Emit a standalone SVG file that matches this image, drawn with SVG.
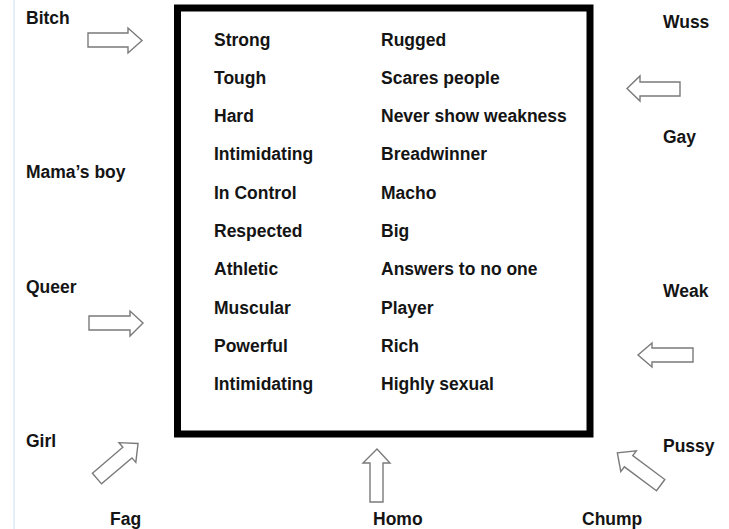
<svg xmlns="http://www.w3.org/2000/svg" width="729" height="529" viewBox="0 0 729 529">
<style>
  text { font-family: "Liberation Sans", Arial, sans-serif; font-weight: bold; font-size: 17.5px; fill: #141414; }
  .arrow { fill: #ffffff; stroke: #7a7a7a; stroke-width: 1.4; stroke-linejoin: miter; }
</style>
<rect x="0" y="0" width="729" height="529" fill="#ffffff"/>
<line x1="14" y1="0" x2="14" y2="529" stroke="#dde8f6" stroke-width="1.5"/>

<g id="box">
  <rect x="177.5" y="8" width="412.5" height="426" fill="#ffffff" stroke="#000000" stroke-width="7"/>
  <g id="box-left-column">
    <text x="214" y="46">Strong</text>
    <text x="214" y="84">Tough</text>
    <text x="214" y="122">Hard</text>
    <text x="214" y="160">Intimidating</text>
    <text x="214" y="199">In Control</text>
    <text x="214" y="237">Respected</text>
    <text x="214" y="275">Athletic</text>
    <text x="214" y="314">Muscular</text>
    <text x="214" y="352">Powerful</text>
    <text x="214" y="390">Intimidating</text>
  </g>
  <g id="box-right-column">
    <text x="381" y="46">Rugged</text>
    <text x="381" y="84">Scares people</text>
    <text x="381" y="122">Never show weakness</text>
    <text x="381" y="160">Breadwinner</text>
    <text x="381" y="199">Macho</text>
    <text x="381" y="237">Big</text>
    <text x="381" y="275">Answers to no one</text>
    <text x="381" y="314">Player</text>
    <text x="381" y="352">Rich</text>
    <text x="381" y="390">Highly sexual</text>
  </g>
</g>

<g id="label-bitch"><text x="26" y="24">Bitch</text></g>
<g id="label-mamasboy"><text x="26" y="178">Mama’s boy</text></g>
<g id="label-queer"><text x="26" y="293">Queer</text></g>
<g id="label-girl"><text x="26" y="447">Girl</text></g>
<g id="label-fag"><text x="110" y="525">Fag</text></g>
<g id="label-homo"><text x="373" y="525">Homo</text></g>
<g id="label-chump"><text x="582" y="525">Chump</text></g>
<g id="label-pussy"><text x="663" y="452">Pussy</text></g>
<g id="label-weak"><text x="663" y="297">Weak</text></g>
<g id="label-gay"><text x="663" y="143">Gay</text></g>
<g id="label-wuss"><text x="663" y="28">Wuss</text></g>

<g id="connectors">
  <path class="arrow" d="M88,33 L128,33 L128,28 L142,40.5 L128,53 L128,47 L88,47 Z"/>
  <path class="arrow" d="M89,316 L130,316 L130,311 L143,323 L130,336 L130,330 L89,330 Z"/>
  <path class="arrow" d="M680,82 L640,82 L640,76 L627,88.5 L640,101 L640,96 L680,96 Z"/>
  <path class="arrow" d="M693,348 L652,348 L652,343 L638,355 L652,367 L652,362 L693,362 Z"/>
  <path class="arrow" d="M370,502 L370,463 L363,463 L377,449 L390,463 L383,463 L383,502 Z"/>
  <path class="arrow" transform="translate(117.5,461) rotate(-40.5)" d="M-27,-7 L13,-7 L13,-13 L27,0 L13,13 L13,7 L-27,7 Z"/>
  <path class="arrow" transform="translate(639,469) rotate(-143.3)" d="M-27,-7 L13,-7 L13,-13 L27,0 L13,13 L13,7 L-27,7 Z"/>
</g>
</svg>
